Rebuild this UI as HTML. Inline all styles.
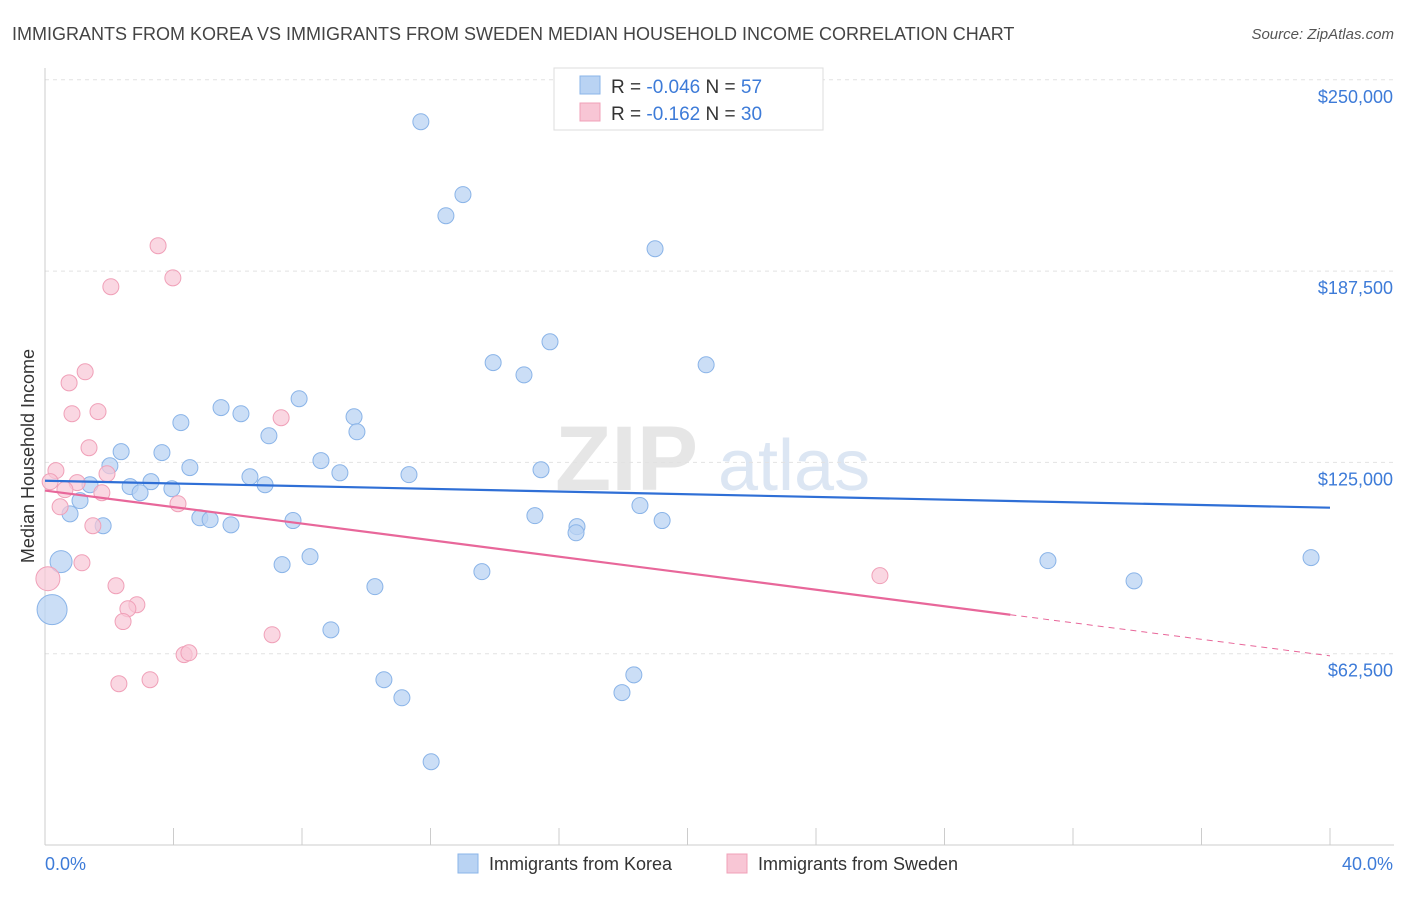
<!DOCTYPE html>
<html><head><meta charset="utf-8"><style>
body{margin:0;background:#fff;font-family:"Liberation Sans",sans-serif;}
svg text{font-family:"Liberation Sans",sans-serif;}
</style></head><body>
<svg id="chart" width="1406" height="892" viewBox="0 0 1406 892" xmlns="http://www.w3.org/2000/svg">
<text x="12" y="40" font-size="18" fill="#444">IMMIGRANTS FROM KOREA VS IMMIGRANTS FROM SWEDEN MEDIAN HOUSEHOLD INCOME CORRELATION CHART</text>
<text x="1394" y="39" font-size="15" fill="#555" font-style="italic" text-anchor="end">Source: ZipAtlas.com</text>
<g>
<text x="555" y="490" font-size="92" fill="#e6e6e6" font-family="Liberation Serif" font-weight="bold">ZIP</text>
<text x="718" y="490" font-size="72" fill="#dce6f3">atlas</text>
</g>
<g id="grid"></g>
<g id="marks"></g>
<g id="lines"></g>
<text transform="translate(34,456) rotate(-90)" font-size="18" fill="#333" text-anchor="middle">Median Household Income</text>
<text x="45" y="870" font-size="18" fill="#3d7bd8">0.0%</text>
<text x="1393" y="870" font-size="18" fill="#3d7bd8" text-anchor="end">40.0%</text>
<g>
<rect x="554" y="68" width="269" height="62" fill="#fff" stroke="#ddd"/>
<rect x="580" y="76" width="20" height="18" fill="#b9d3f3" stroke="#8ab4e8"/>
<rect x="580" y="103" width="20" height="18" fill="#f8c6d5" stroke="#f0a0b8"/>
<text x="611" y="93" font-size="19" fill="#333">R = <tspan fill="#3d7bd8">-0.046</tspan>   N = <tspan fill="#3d7bd8">57</tspan></text>
<text x="611" y="120" font-size="19" fill="#333">R =  <tspan fill="#3d7bd8"> -0.162</tspan>   N = <tspan fill="#3d7bd8">30</tspan></text>
</g>
<g>
<rect x="458" y="854" width="20" height="19" fill="#b9d3f3" stroke="#8ab4e8"/>
<text x="489" y="870" font-size="18" fill="#333">Immigrants from Korea</text>
<rect x="727" y="854" width="20" height="19" fill="#f8c6d5" stroke="#f0a0b8"/>
<text x="758" y="870" font-size="18" fill="#333">Immigrants from Sweden</text>
</g>
</svg>
<script>
const yTicks=[62500,125000,187500,250000];
const yTickLabels=["$62,500","$125,000","$187,500","$250,000"];
const xTicks=[0,4,8,12,16,20,24,28,32,36,40];
const koreaX=[11.70,13.01,12.48,18.99,15.72,13.95,14.91,20.58,7.91,5.48,4.23,6.10,9.62,9.71,6.97,2.37,3.64,2.02,4.51,8.59,9.18,11.33,15.44,6.38,6.85,1.40,2.65,3.30,2.96,3.95,1.09,0.78,4.82,5.14,5.79,7.72,1.81,15.25,16.56,16.53,18.52,19.21,8.25,7.38,13.60,10.27,0.50,31.22,33.90,39.41,0.22,8.90,10.55,11.11,18.33,17.96,12.02];
const koreaY=[236.3,212.5,205.6,194.8,164.4,157.6,153.6,156.9,145.8,142.9,138.0,140.9,139.9,135.0,133.7,128.5,128.2,123.9,123.3,125.6,121.6,121.0,122.6,120.3,117.7,117.7,117.1,118.7,115.1,116.4,112.5,108.2,106.9,106.3,104.6,106.0,104.3,107.6,104.0,102.0,110.9,106.0,94.2,91.6,89.3,84.4,92.6,92.9,86.3,93.9,76.9,70.3,54.0,48.1,55.6,49.8,27.2];
const koreaSize=[8,8,8,8,8,8,8,8,8,8,8,8,8,8,8,8,8,8,8,8,8,8,8,8,8,8,8,8,8,8,8,8,8,8,8,8,8,8,8,8,8,8,8,8,8,8,11,8,8,8,15,8,8,8,8,8,8];
const swedenX=[3.52,3.98,2.05,1.25,0.75,0.84,1.65,7.35,1.37,0.34,1.93,0.16,1.00,0.62,1.77,4.14,0.47,1.49,1.15,0.09,2.21,2.86,2.58,2.43,7.07,4.33,4.48,3.27,2.30,25.99];
const swedenY=[195.8,185.3,182.4,154.6,151.0,140.9,141.6,139.6,129.8,122.3,121.3,118.7,118.4,116.1,115.1,111.5,110.5,104.3,92.2,87.0,84.7,78.5,77.2,73.0,68.7,62.2,62.8,54.0,52.7,88.0];
const swedenSize=[8,8,8,8,8,8,8,8,8,8,8,8,8,8,8,8,8,8,8,12,8,8,8,8,8,8,8,8,8,8];
const koreaTrend=[119.0,110.2];
const swedenTrend=[115.8,61.8];
const swedenSolidEnd=30.05;

const NS="http://www.w3.org/2000/svg";
const X=p=>45+p/40*1285;
const Y=v=>845-v/62500*191.3;
const Yk=k=>Y(k*1000);
function mk(tag,attrs,parent){const e=document.createElementNS(NS,tag);for(const k in attrs)e.setAttribute(k,attrs[k]);parent.appendChild(e);return e;}
const grid=document.getElementById('grid');
const marks=document.getElementById('marks');
const lines=document.getElementById('lines');
yTicks.forEach((t,i)=>{
  const l=mk('line',{x1:45,x2:1394,y1:Y(t),y2:Y(t),stroke:'#e2e2e2','stroke-dasharray':'4,4'},grid);
  
  
  const tx=mk('text',{x:1393,y:Y(t)+23,'font-size':18,fill:'#3d7bd8','text-anchor':'end'},grid);
  tx.textContent=yTickLabels[i];
  
  
});
const ax=mk('line',{x1:45,x2:1394,y1:845,y2:845,stroke:'#ccc'},grid);


const ay=mk('line',{x1:45,x2:45,y1:68,y2:845,stroke:'#ccc'},grid);


xTicks.forEach(t=>{
  const l=mk('line',{x1:X(t),x2:X(t),y1:828,y2:845,stroke:'#ccc'},grid);
  
  
});
koreaX.forEach((x,i)=>{
  const c=mk('circle',{cx:X(x),cy:Yk(koreaY[i]),r:koreaSize[i],fill:'#b9d3f3','fill-opacity':0.75,stroke:'#8ab4e8','stroke-width':1},marks);
  
  
});
swedenX.forEach((x,i)=>{
  const c=mk('circle',{cx:X(x),cy:Yk(swedenY[i]),r:swedenSize[i],fill:'#f8c6d5','fill-opacity':0.7,stroke:'#f0a0b8','stroke-width':1},marks);
  
  
});
const kl=mk('line',{x1:X(0),y1:Yk(koreaTrend[0]),x2:X(40),y2:Yk(koreaTrend[1]),stroke:'#2f6fd6','stroke-width':2.2},lines);


const sv=p=>swedenTrend[0]+(swedenTrend[1]-swedenTrend[0])*p/40;
const sl=mk('line',{x1:X(0),y1:Yk(sv(0)),x2:X(swedenSolidEnd),y2:Yk(sv(swedenSolidEnd)),stroke:'#e8679a','stroke-width':2.2},lines);


const sd=mk('line',{x1:X(swedenSolidEnd),y1:Yk(sv(swedenSolidEnd)),x2:X(40),y2:Yk(sv(40)),stroke:'#e8679a','stroke-width':1,'stroke-dasharray':'6,5'},lines);


</script>
</body></html>
